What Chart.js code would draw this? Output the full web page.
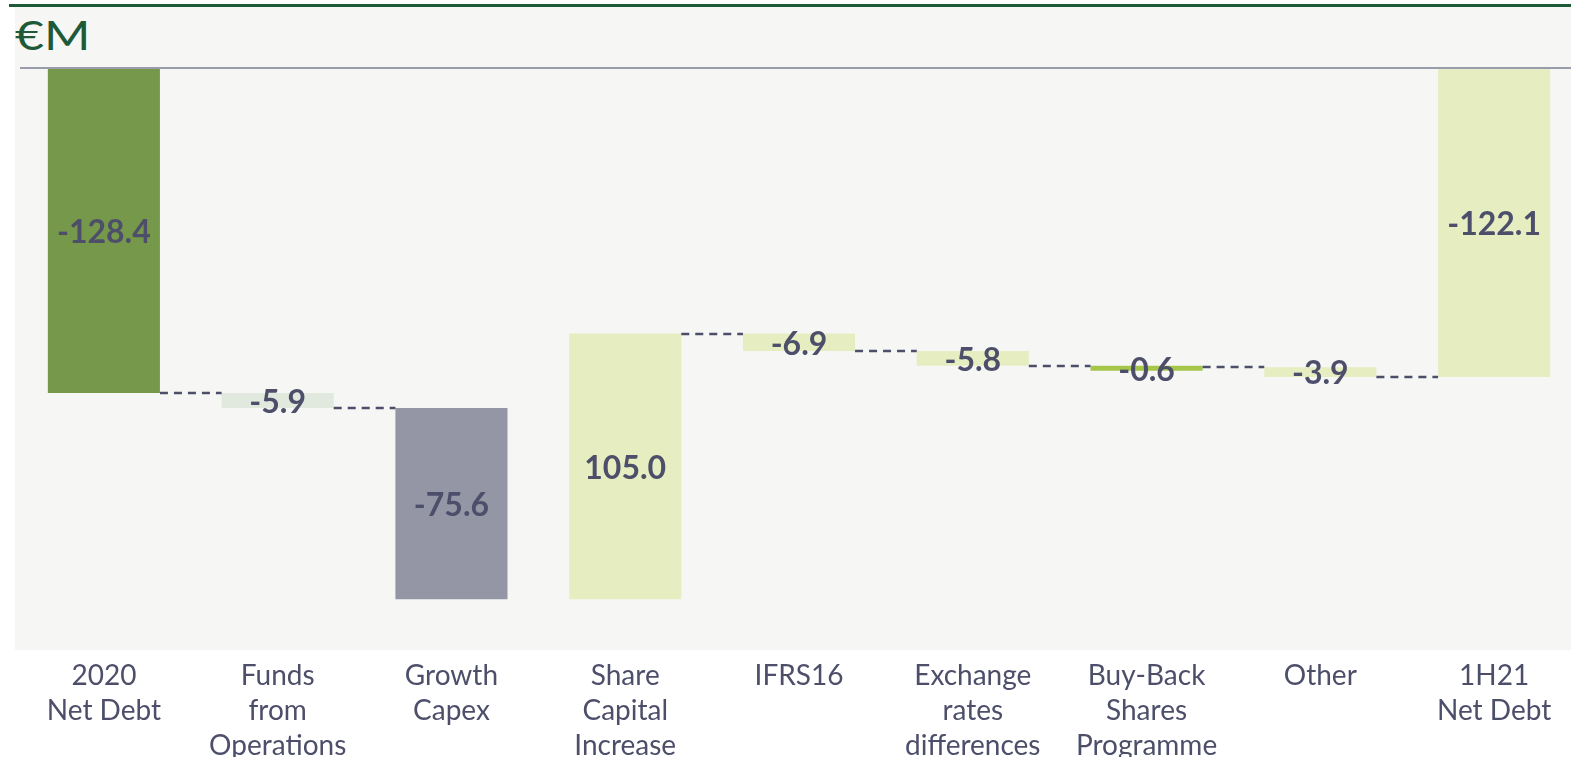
<!DOCTYPE html>
<html>
<head>
<meta charset="utf-8">
<script src="https://cdn.jsdelivr.net/npm/chart.js@4.4.1/dist/chart.umd.min.js"></script>
<style>
  html, body { margin: 0; padding: 0; background: #ffffff; overflow: hidden; width: 1571px; height: 757px; }
  .topline { position: absolute; left: 9px; top: 4px; right: 0; height: 3px; background: #1e5a38; }
  .panel { position: absolute; left: 15px; top: 7px; right: 0; height: 643px; background: #f6f6f4; }
  .unit { position: absolute; left: 15px; top: 11px; font-family: Lato, sans-serif; font-size: 40px; color: #1e5a38; transform: scaleX(1.25); transform-origin: left top; }
  .wrap { position: absolute; left: 0; top: 0; width: 1585px; height: 797px; }
</style>
</head>
<body>
<div class="topline"></div>
<div class="panel"></div>
<div class="unit">€M</div>
<div class="wrap"><canvas id="chart"></canvas></div>
<script>
// categories and movements of net debt (€M)
const categories = [
    ['2020', 'Net Debt'],
    ['Funds', 'from', 'Operations'],
    ['Growth', 'Capex'],
    ['Share', 'Capital', 'Increase'],
    ['IFRS16'],
    ['Exchange', 'rates', 'differences'],
    ['Buy-Back', 'Shares', 'Programme'],
    ['Other'],
    ['1H21', 'Net Debt']
];
const movements = [-128.4, -5.9, -75.6, 105.0, -6.9, -5.8, -0.6, -3.9, -122.1];
const isTotal = [true, false, false, false, false, false, false, false, true];
const barColors = ['#76984a', '#e1e8dd', '#9496a6', '#e6edc1', '#e6edc1', '#e6edc1', '#a6c64a', '#e6edc1', '#e6edc1'];
// no dashed connector after these bars
const noConnector = [2];

// build floating [from, to] ranges for the waterfall
function buildWaterfall(values, totals) {
    let running = 0;
    return values.map((v, i) => {
        if (totals[i]) {
            running = v;
            return [0, v];
        }
        const from = running;
        running = +(running + v).toFixed(1);
        return [from, running];
    });
}
const ranges = buildWaterfall(movements, isTotal);

const labelColor = '#4d4f6a';

// dashed connectors, zero line and value labels
const waterfallExtras = {
    id: 'waterfallExtras',
    afterDatasetsDraw(chart) {
        const ctx = chart.ctx;
        const yScale = chart.scales.y;
        const bars = chart.getDatasetMeta(0).data;
        ctx.save();
        // zero line
        const y0 = yScale.getPixelForValue(0);
        ctx.strokeStyle = '#9a9cab';
        ctx.lineWidth = 2;
        ctx.beginPath();
        ctx.moveTo(20, y0);
        ctx.lineTo(chart.width, y0);
        ctx.stroke();
        // connectors
        ctx.setLineDash([8, 6]);
        ctx.strokeStyle = labelColor;
        ctx.lineWidth = 2.5;
        for (let i = 0; i < bars.length - 1; i++) {
            if (noConnector.includes(i)) continue;
            const level = ranges[i][1];
            const y = Math.round(yScale.getPixelForValue(level));
            const x1 = bars[i].x + bars[i].width / 2;
            const x2 = bars[i + 1].x - bars[i + 1].width / 2;
            ctx.beginPath();
            ctx.moveTo(x1, y);
            ctx.lineTo(x2, y);
            ctx.stroke();
        }
        ctx.setLineDash([]);
        // value labels
        ctx.fillStyle = labelColor;
        ctx.font = 'bold 32px Lato, sans-serif';
        ctx.textAlign = 'center';
        ctx.textBaseline = 'middle';
        bars.forEach((bar, i) => {
            const mid = (bar.y + bar.base) / 2;
            ctx.fillText(movements[i].toFixed(1), bar.x, mid + 2);
        });
        ctx.restore();
    }
};

new Chart(document.getElementById('chart'), {
    type: 'bar',
    data: {
        labels: categories,
        datasets: [{
            data: ranges,
            backgroundColor: barColors,
            borderWidth: 0,
            borderSkipped: false,
            minBarLength: 5,
            barPercentage: 0.645,
            categoryPercentage: 1.0
        }]
    },
    options: {
        responsive: true,
        maintainAspectRatio: false,
        animation: false,
        layout: {
            padding: { top: 68, left: 17, right: 4, bottom: 28 }
        },
        plugins: {
            legend: { display: false },
            tooltip: { enabled: false }
        },
        scales: {
            x: {
                grid: { display: false, drawTicks: false },
                border: { display: false },
                ticks: {
                    color: labelColor,
                    font: { family: 'Lato, sans-serif', size: 28, lineHeight: 1.25 },
                    padding: 6,
                    maxRotation: 0,
                    autoSkip: false
                }
            },
            y: {
                display: false,
                min: -230.7,
                max: 0
            }
        }
    },
    plugins: [waterfallExtras]
});
</script>
</body>
</html>
